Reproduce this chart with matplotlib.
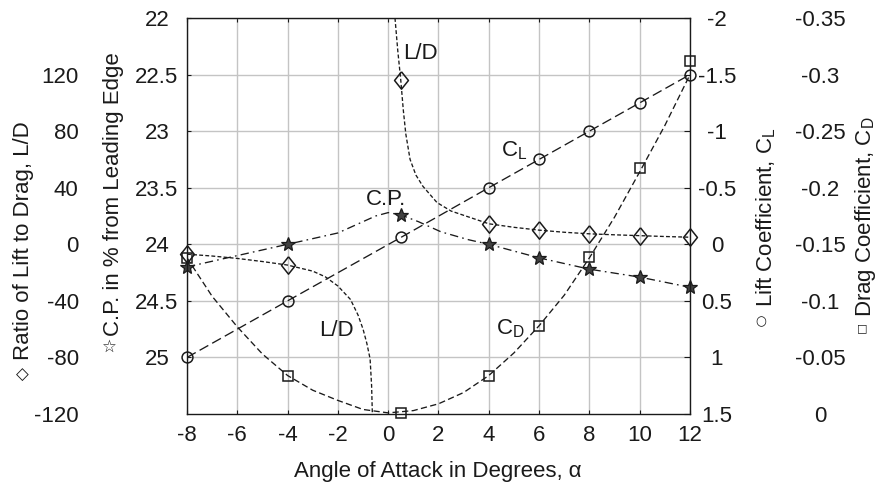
import matplotlib.pyplot as plt

plt.rcParams['font.family'] = ['Liberation Sans', 'DejaVu Sans']
plt.rcParams['lines.scale_dashes'] = False

# measured points
alpha = [-8, -4, 0.5, 4, 6, 8, 10, 12]
cl = [1.0, 0.5, -0.06, -0.5, -0.75, -1.0, -1.25, -1.5]
cd = [-0.138, -0.034, -0.001, -0.034, -0.078, -0.139, -0.217, -0.312]
ld = [-7.0, -14.7, 116, 14.5, 10.0, 7.4, 6.2, 5.0]
cp = [24.2, 24.0, 23.74, 24.0, 24.12, 24.22, 24.29, 24.38]

# fitted curves
cd_fit_alpha = [-8, -7, -6, -5, -4, -3, -2, -1, 0, 1, 2, 3, 4, 5, 6, 7, 8, 9, 10, 11, 12]
cd_fit = [-0.138, -0.104, -0.077, -0.053, -0.034, -0.021, -0.012, -0.004, -0.001, -0.003,
          -0.009, -0.019, -0.034, -0.054, -0.078, -0.105, -0.138, -0.174, -0.214, -0.255, -0.300]

ld_lo_alpha = [-8, -7, -6, -5, -4, -3, -2.5, -2, -1.5, -1.2, -1.0, -0.85, -0.72, -0.66, -0.63]
ld_lo = [-7.0, -8.3, -10.0, -12.2, -14.7, -19.0, -23.0, -29.5, -39.0, -50.0, -60.0, -70.0, -81.0, -100.0, -120.0]

ld_hi_alpha = [0.27, 0.38, 0.5, 0.6, 0.7, 0.87, 1.1, 1.38, 1.94, 2.5, 3.25, 4, 5, 6, 7, 8, 9, 10, 11, 12]
ld_hi = [160, 137, 116, 95, 78, 60, 49, 41, 29.5, 23.5, 19.0, 14.5, 12.0, 10.0, 8.5, 7.4, 6.7, 6.1, 5.5, 5.0]

cp_fit_alpha = [-8, -6, -4, -2, -1, -0.5, 0, 0.5, 1.2, 2.1, 3.2, 4, 6, 8, 10, 12]
cp_fit = [24.2, 24.1, 24.0, 23.9, 23.8, 23.75, 23.72, 23.74, 23.8, 23.89, 23.96, 24.0,
          24.12, 24.22, 24.29, 24.38]

alpha_ticks = [-8, -6, -4, -2, 0, 2, 4, 6, 8, 10, 12]
cp_ticks = [22, 22.5, 23, 23.5, 24, 24.5, 25]
cp_labels = ['22', '22.5', '23', '23.5', '24', '24.5', '25']
ld_ticks = [-120, -80, -40, 0, 40, 80, 120]
cl_ticks = [-2, -1.5, -1, -0.5, 0, 0.5, 1, 1.5]
cl_labels = ['-2', '-1.5', '-1', '-0.5', '0', '0.5', '1', '1.5']
cd_ticks = [-0.35, -0.3, -0.25, -0.2, -0.15, -0.1, -0.05, 0]
cd_labels = ['-0.35', '-0.3', '-0.25', '-0.2', '-0.15', '-0.1', '-0.05', '0']

FS = 16
W, H = 878, 487
INK = '#1a1a1a'

fig = plt.figure(figsize=(W / 100, H / 100), dpi=100)
ax = fig.add_axes([187 / W, 1 - 414 / H, (690 - 187) / W, (414 - 18) / H])

# C.P. axis (main)
ax.set_xlim(-8, 12)
ax.set_ylim(25.5, 22)
ax.set_xticks(alpha_ticks)
ax.set_xticklabels([str(a) for a in alpha_ticks])
ax.set_yticks(cp_ticks)
ax.set_yticklabels(cp_labels)
ax.grid(True, color='#c4c4c4', lw=1.0)
ax.set_axisbelow(True)
ax.tick_params(axis='both', direction='in', length=3, labelsize=FS, colors=INK)
ax.tick_params(axis='x', top=True, pad=8)
ax.tick_params(axis='y', right=False, pad=21.6)
plt.setp(ax.get_yticklabels(), ha='center')
for s in ax.spines.values():
    s.set_color(INK)
    s.set_linewidth(1.0)

# L/D axis (far left, no spine)
ax_ld = ax.twinx()
ax_ld.set_ylim(-120, 160)
ax_ld.yaxis.set_ticks_position('left')
ax_ld.set_yticks(ld_ticks)
ax_ld.set_yticklabels([str(v) for v in ld_ticks])
ax_ld.tick_params(axis='y', length=0, pad=78, labelsize=FS, colors=INK)

# C_L axis (right spine)
ax_cl = ax.twinx()
ax_cl.set_ylim(1.5, -2)
ax_cl.set_yticks(cl_ticks)
ax_cl.set_yticklabels(cl_labels)
ax_cl.tick_params(axis='y', direction='in', length=4, pad=19.4, labelsize=FS, colors=INK)
plt.setp(ax_cl.get_yticklabels(), ha='center')

# C_D axis (far right, no spine)
ax_cd = ax.twinx()
ax_cd.set_ylim(0, -0.35)
ax_cd.set_yticks(cd_ticks)
ax_cd.set_yticklabels(cd_labels)
ax_cd.tick_params(axis='y', length=0, pad=93.6, labelsize=FS, colors=INK)
plt.setp(ax_cd.get_yticklabels(), ha='center')

for a in (ax_ld, ax_cl, ax_cd):
    for s in a.spines.values():
        s.set_visible(False)

lw = 0.95
# curves
ax_cl.plot(alpha, cl, color=INK, lw=lw, dashes=(7.2, 3.2))
ax_cd.plot(cd_fit_alpha, cd_fit, color=INK, lw=lw, dashes=(4.5, 2.4))
ax_ld.plot(ld_lo_alpha, ld_lo, color=INK, lw=lw, dashes=(2.8, 1.6))
ax_ld.plot(ld_hi_alpha, ld_hi, color=INK, lw=lw, dashes=(2.8, 1.6))
ax.plot(cp_fit_alpha, cp_fit, color=INK, lw=lw, dashes=(6, 3, 1.2, 3))

# markers
diamond = [(0, 1), (0.8, 0), (0, -1), (-0.8, 0), (0, 1)]
ax_cl.plot(alpha, cl, ls='none', marker='o', ms=7.8, mfc='none', mec=INK, mew=1.1, clip_on=False)
ax_cd.plot(alpha, cd, ls='none', marker='s', ms=6.5, mfc='none', mec=INK, mew=1.1, clip_on=False)
ax_ld.plot(alpha, ld, ls='none', marker=diamond, ms=12.5, mfc='none', mec=INK, mew=1.1, clip_on=False)
ax.plot(alpha, cp, ls='none', marker='*', ms=10, mfc='0.25', mec=INK, mew=0.9, clip_on=False)

# curve labels
ax.text(1.30, 22.31, 'L/D', fontsize=FS, ha='center', va='center', color=INK)
ax.text(-2.04, 24.76, 'L/D', fontsize=FS, ha='center', va='center', color=INK)
ax.text(-0.09, 23.60, 'C.P.', fontsize=FS, ha='center', va='center', color=INK)
ax.text(5.0, 23.17, r'C$_\mathregular{L}$', fontsize=FS, ha='center', va='center', color=INK)
ax.text(4.84, 24.75, r'C$_\mathregular{D}$', fontsize=FS, ha='center', va='center', color=INK)

# axis titles
def ftext(x, y, s, **kw):
    fig.text(x / W, 1 - y / H, s, ha='center', va='center', color=INK, **kw)

ftext(438, 471, 'Angle of Attack in Degrees, \u03b1', fontsize=FS)
ftext(24, 241, 'Ratio of Lift to Drag, L/D', fontsize=FS, rotation=90)
ftext(22, 375, '\u25c7', fontsize=12, family='DejaVu Sans')
ftext(114, 194, 'C.P. in % from Leading Edge', fontsize=FS, rotation=90)
ftext(109, 347, '\u2606', fontsize=12, family='DejaVu Sans')
ftext(766, 217, r'Lift Coefficient, C$_\mathregular{L}$', fontsize=FS, rotation=90)
ftext(761, 322, '\u25cb', fontsize=9, family='DejaVu Sans')
ftext(866, 217, r'Drag Coefficient, C$_\mathregular{D}$', fontsize=FS, rotation=90)
ftext(862, 328, '\u25a1', fontsize=8, family='DejaVu Sans')

fig.savefig('out.png', dpi=100)
